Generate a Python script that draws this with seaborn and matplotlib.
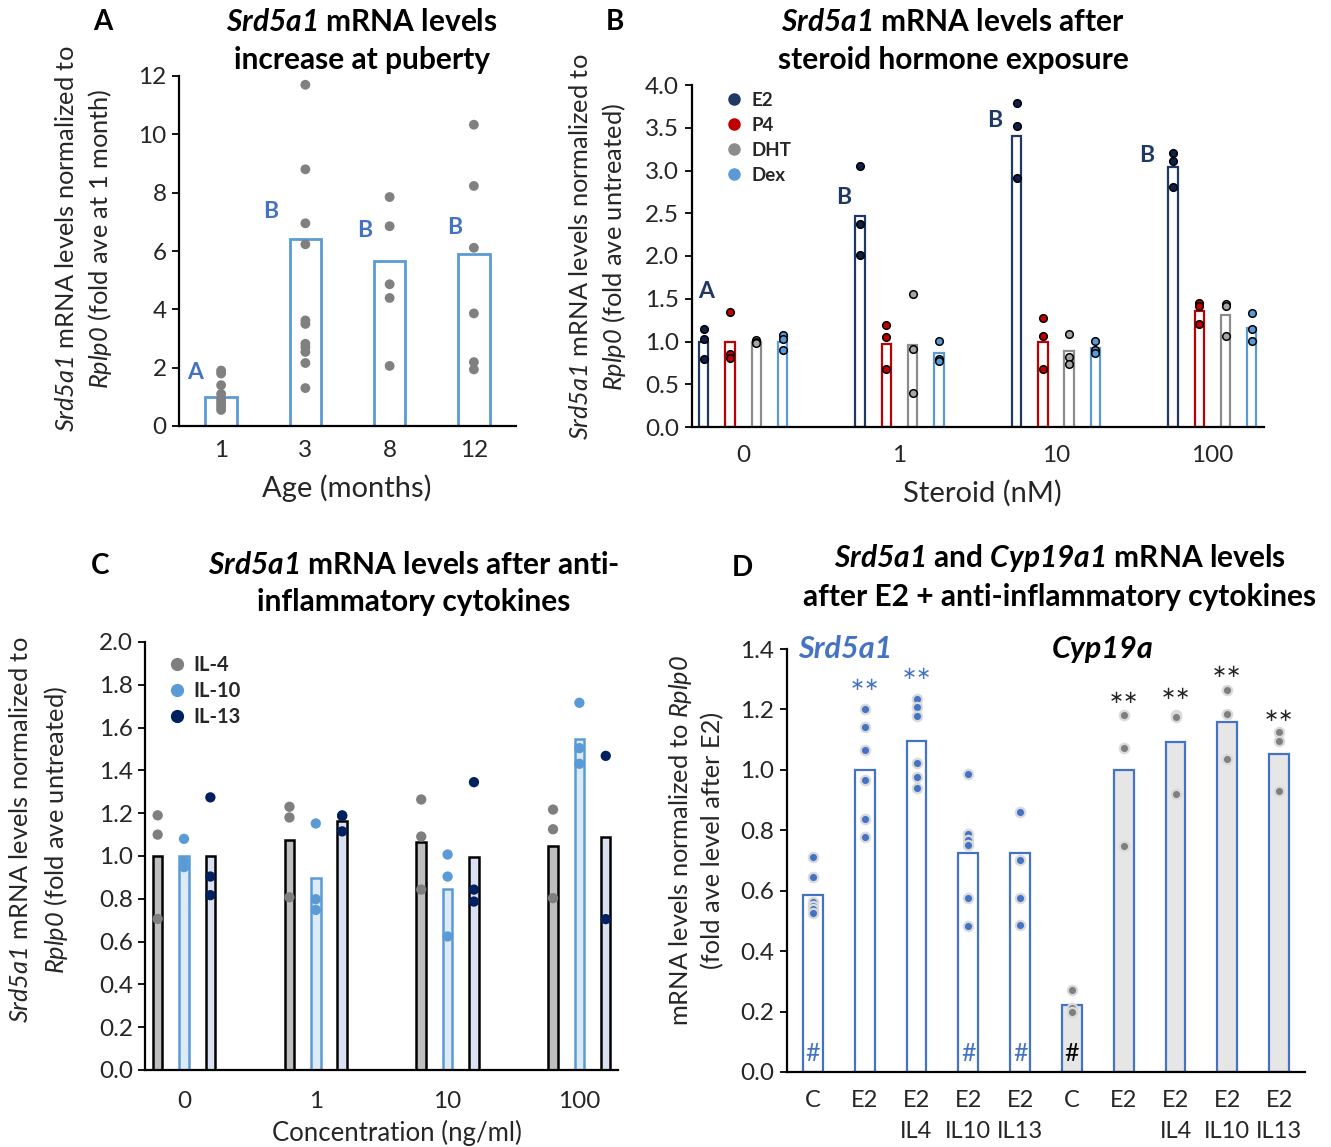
import numpy as np
import matplotlib
matplotlib.use("Agg")
import matplotlib.pyplot as plt
import seaborn as sns
from matplotlib.lines import Line2D

# ---------------- DATA ----------------
# Panel A
ages = ["1", "3", "8", "12"]
a_means = [1.0, 6.4, 5.65, 5.9]
a_pts_1m = [1.9, 1.8, 1.4, 1.1, 0.95, 0.85, 0.75, 0.65, 0.55]
a_pts_3m = [11.7, 8.8, 6.95, 6.23, 3.62, 3.5, 2.82, 2.7, 2.54, 2.16, 1.3]
a_pts_8m = [7.85, 6.85, 4.86, 4.39, 2.06]
a_pts_12m = [10.33, 8.23, 6.11, 3.86, 2.19, 1.94]
a_letters = ["A", "B", "B", "B"]

# Panel B
b_doses = ["0", "1", "10", "100"]
b_steroids = ["E2", "P4", "DHT", "Dex"]
b_e2_mean = [1.0, 2.47, 3.40, 3.04]
b_p4_mean = [1.0, 0.976, 1.0, 1.36]
b_dht_mean = [1.0, 0.96, 0.886, 1.31]
b_dex_mean = [1.0, 0.86, 0.925, 1.16]
b_e2_pts = [[1.15, 1.03, 0.80], [3.05, 2.38, 2.01], [3.79, 3.52, 2.91], [3.21, 3.11, 2.81]]
b_p4_pts = [[1.34, 0.85, 0.81], [1.19, 1.05, 0.675], [1.28, 1.07, 0.675], [1.45, 1.42, 1.21]]
b_dht_pts = [[1.02, 1.0, 0.98], [1.56, 0.917, 0.40], [1.09, 0.82, 0.74], [1.44, 1.42, 1.07]]
b_dex_pts = [[1.08, 1.03, 0.90], [1.01, 0.80, 0.77], [1.01, 0.90, 0.87], [1.33, 1.15, 1.01]]
b_letters = ["A", "B", "B", "B"]

# Panel C
c_conc = ["0", "1", "10", "100"]
c_cytokines = ["IL-4", "IL-10", "IL-13"]
c_il4_mean = [1.0, 1.076, 1.065, 1.049]
c_il10_mean = [1.0, 0.896, 0.845, 1.548]
c_il13_mean = [1.0, 1.164, 0.993, 1.087]
c_il4_pts = [[1.19, 1.10, 0.706], [1.23, 1.18, 0.807], [1.264, 1.091, 0.843], [1.217, 1.125, 0.803]]
c_il10_pts = [[1.08, 0.974, 0.948], [1.152, 0.798, 0.748], [1.007, 0.904, 0.624], [1.716, 1.504, 1.431]]
c_il13_pts = [[1.274, 0.904, 0.817], [1.19, 1.115, 1.187], [1.345, 0.843, 0.787], [1.468, 0.705]]

# Panel D
d_labels = ["C", "E2", "E2\nIL4", "E2\nIL10", "E2\nIL13",
            "C", "E2", "E2\nIL4", "E2\nIL10", "E2\nIL13"]
d_srd_mean = [0.586, 1.0, 1.094, 0.724, 0.724]
d_cyp_mean = [0.222, 1.0, 1.091, 1.160, 1.051]
d_srd_pts = [[0.713, 0.644, 0.564, 0.549, 0.54, 0.527],
             [1.203, 1.141, 1.065, 0.967, 0.839, 0.777],
             [1.235, 1.208, 1.177, 1.022, 0.975, 0.940],
             [0.986, 0.788, 0.768, 0.751, 0.575, 0.484],
             [0.862, 0.702, 0.575, 0.487]]
d_cyp_pts = [[0.270, 0.212, 0.199],
             [1.181, 1.072, 0.748],
             [1.18, 1.175, 0.919],
             [1.265, 1.185, 1.035],
             [1.124, 1.097, 0.930]]
d_stars = ["", "∗∗", "∗∗", "", "", "", "∗∗", "∗∗", "∗∗", "∗∗"]
d_hash = ["#", "", "", "#", "#", "#", "", "", "", ""]

# ---------------- STYLE ----------------
sns.set_theme(style="ticks")
FONT = "Lato"
plt.rcParams["font.family"] = [FONT, "DejaVu Sans"]
plt.rcParams.update({
    "mathtext.fontset": "custom",
    "mathtext.sf": "Lato:italic:bold",
    "mathtext.tt": "Lato:italic",
    "mathtext.rm": "Lato",
    "mathtext.it": "Lato:italic",
    "mathtext.bf": "Lato:bold",
})
TXT = "#262626"
TICK = 17.5
LAB = 18.3
TITLE = 21.5
PANEL = 20

W, H = 1331, 1147
fig = plt.figure(figsize=(W / 100, H / 100), dpi=100)
fig.patch.set_facecolor("white")


def px_axes(l, r, t, b):
    return fig.add_axes([l / W, 1 - b / H, (r - l) / W, (b - t) / H])


def style_axis(ax, xpad):
    sns.despine(ax=ax)
    for s in ["left", "bottom"]:
        ax.spines[s].set_color("black")
        ax.spines[s].set_linewidth(1.6)
    ax.tick_params(axis="y", length=5, width=1.3, color="black",
                   labelsize=TICK, labelcolor=TXT, pad=4)
    ax.tick_params(axis="x", length=0, labelsize=TICK, labelcolor=TXT, pad=xpad)
    ax.set_xlabel("")
    ax.set_ylabel("")
    ax.set_facecolor("none")


def bars(ax, x, heights, width, face, edge, lw):
    n0 = len(ax.patches)
    sns.barplot(x=np.asarray(x, dtype=float), y=heights, native_scale=True,
                orient="x", width=width, color=face, saturation=1,
                errorbar=None, ax=ax, linewidth=lw, edgecolor=edge, zorder=2)
    for p in ax.patches[n0:]:
        p.set_facecolor(face)
        p.set_edgecolor(edge)
        p.set_linewidth(lw)


def dots(ax, x, pts, color, s, edge, lw):
    sns.scatterplot(x=np.full(len(pts), x, dtype=float), y=pts, color=color,
                    s=s, edgecolor=edge, linewidth=lw, ax=ax, legend=False,
                    zorder=4, clip_on=False)


def ftext(x, y, s, **kw):
    fig.text(x / W, 1 - y / H, s, **kw)


# ---------------- PANEL A ----------------
axA = px_axes(179, 516, 76, 426)
posA = np.arange(len(ages))
A_EDGE = "#5B9BD5"
bars(axA, posA, a_means, 0.375, "white", A_EDGE, 2.0)
for i, pts in enumerate([a_pts_1m, a_pts_3m, a_pts_8m, a_pts_12m]):
    dots(axA, posA[i], pts, "#808080", 50, "none", 0)
a_letter_xy = [(-0.31, 1.82), (0.585, 7.34), (1.70, 6.69), (2.775, 6.79)]
for (lx, ly), t in zip(a_letter_xy, a_letters):
    axA.text(lx, ly, t, color="#4472C4", fontsize=16.5, fontweight="bold",
             ha="center", va="center")
style_axis(axA, 10)
axA.set_xlim(-0.5, 3.5)
axA.set_ylim(0, 12)
axA.set_yticks(range(0, 13, 2))
axA.set_xticks(posA, ages)

# ---------------- PANEL B ----------------
axB = px_axes(691.5, 1264, 85, 427)
posB = np.arange(len(b_doses))
b_colors = ["#1F3864", "#C00000", "#8C8C8C", "#5B9BD5"]
b_pcolors = ["#0E1F4A", "#C00000", "#A6A6A6", "#5B9BD5"]
b_offsets = (np.arange(4) - 1.5) * 0.168
for k, (means, pts_list) in enumerate(zip(
        [b_e2_mean, b_p4_mean, b_dht_mean, b_dex_mean],
        [b_e2_pts, b_p4_pts, b_dht_pts, b_dex_pts])):
    bars(axB, posB + b_offsets[k], means, 0.06, "white", b_colors[k], 1.6)
    for i, pts in enumerate(pts_list):
        dots(axB, posB[i] + b_offsets[k], pts, b_pcolors[k], 30, "black", 1.1)
b_letter_xy = [(-0.24, 1.58), (0.64, 2.68), (1.61, 3.58), (2.58, 3.18)]
for (lx, ly), t in zip(b_letter_xy, b_letters):
    axB.text(lx, ly, t, color="#1F3864", fontsize=16.5, fontweight="bold",
             ha="center", va="center")
style_axis(axB, 13)
axB.set_xlim(-0.33, 3.33)
axB.set_ylim(0, 4.0)
axB.set_yticks(np.arange(0, 4.01, 0.5), [f"{v:.1f}" for v in np.arange(0, 4.01, 0.5)])
axB.set_xticks(posB, b_doses)
hB = [Line2D([], [], marker="o", ls="", color=c, markersize=8) for c in b_colors]
axB.legend(hB, b_steroids, loc="upper left", bbox_to_anchor=(726 / W, 1 - 92 / H),
           bbox_transform=fig.transFigure, frameon=False, borderpad=0,
           borderaxespad=0, handlelength=0.8, handletextpad=0.55, labelspacing=0.42,
           prop={"family": FONT, "weight": "bold", "size": 13.5})

# ---------------- PANEL C ----------------
axC = px_axes(145.4, 618, 642, 1070)
posC = np.arange(len(c_conc))
c_face = ["#BFBFBF", "#DDEBF7", "#D9E1F2"]
c_edge = ["black", "#5B9BD5", "black"]
c_pt = ["#7F7F7F", "#5B9BD5", "#002060"]
c_offsets = (np.arange(3) - 1) * 0.2
for k, (means, pts_list) in enumerate(zip(
        [c_il4_mean, c_il10_mean, c_il13_mean],
        [c_il4_pts, c_il10_pts, c_il13_pts])):
    bars(axC, posC + c_offsets[k], means, 0.072, c_face[k], c_edge[k], 1.8)
    for i, pts in enumerate(pts_list):
        dots(axC, posC[i] + c_offsets[k], pts, c_pt[k], 55, "none", 0)
style_axis(axC, 15)
axC.set_xlim(-0.293, 3.293)
axC.set_ylim(0, 2.0)
axC.set_yticks(np.arange(0, 2.01, 0.2), [f"{v:.1f}" for v in np.arange(0, 2.01, 0.2)])
axC.set_xticks(posC, c_conc)
hC = [Line2D([], [], marker="o", ls="", color=c, markersize=8.5) for c in c_pt]
axC.legend(hC, c_cytokines, loc="upper left", bbox_to_anchor=(169 / W, 1 - 655 / H),
           bbox_transform=fig.transFigure, frameon=False, borderpad=0,
           borderaxespad=0, handlelength=0.75, handletextpad=0.45, labelspacing=0.31,
           prop={"family": FONT, "weight": "bold", "size": 14.5})

# ---------------- PANEL D ----------------
axD = px_axes(787, 1305, 649, 1072)
posD = np.arange(len(d_labels))
D_BLUE = "#4472C4"
bars(axD, posD[:5], d_srd_mean, 0.385, "white", D_BLUE, 1.6)
bars(axD, posD[5:], d_cyp_mean, 0.385, "#E7E6E6", D_BLUE, 1.6)
for i, pts in enumerate(d_srd_pts):
    dots(axD, posD[i], pts, D_BLUE, 45, "#D9D9D9", 1.6)
for i, pts in enumerate(d_cyp_pts):
    dots(axD, posD[5 + i], pts, "#7F7F7F", 45, "#D9D9D9", 1.6)
d_star_y = [0, 1.287, 1.324, 0, 0, 0, 1.246, 1.257, 1.329, 1.185]
for i, (st, sy) in enumerate(zip(d_stars, d_star_y)):
    if st:
        axD.text(posD[i], sy, st, color=D_BLUE if i < 5 else "#262626",
                 fontsize=13, family=["DejaVu Sans"], ha="center",
                 va="center_baseline")
for i, hs in enumerate(d_hash):
    if hs:
        axD.text(posD[i], 0.061, hs, color=D_BLUE if i < 5 else "black",
                 fontsize=18, ha="center", va="center")
axD.text(0.62, 1.40, "Srd5a1", color=D_BLUE, fontsize=22, fontweight="bold",
         fontstyle="italic", ha="center", va="center")
axD.text(5.6, 1.40, "Cyp19a", color="black", fontsize=22, fontweight="bold",
         fontstyle="italic", ha="center", va="center")
style_axis(axD, 13)
axD.set_xlim(-0.5, 9.5)
axD.set_ylim(0, 1.4)
axD.set_yticks(np.arange(0, 1.41, 0.2), [f"{v:.1f}" for v in np.arange(0, 1.41, 0.2)])
axD.set_xticks(posD, d_labels)
for lab in axD.get_xticklabels():
    lab.set_fontsize(17)
    lab.set_linespacing(1.6)
    lab.set_multialignment("center")

# ---------------- TEXT: titles, labels ----------------
tkw = dict(ha="center", va="center", fontsize=TITLE, fontweight="bold", color="black")
ftext(362, 22, r"$\mathsf{Srd5a1}$ mRNA levels", **tkw)
ftext(362, 60, "increase at puberty", **tkw)
ftext(953, 22, r"$\mathsf{Srd5a1}$ mRNA levels after", **tkw)
ftext(953, 60, "steroid hormone exposure", **tkw)
ftext(414, 565, r"$\mathsf{Srd5a1}$ mRNA levels after anti-", **tkw)
ftext(414, 602, "inflammatory cytokines", **tkw)
ftext(1060, 558, r"$\mathsf{Srd5a1}$ and $\mathsf{Cyp19a1}$ mRNA levels", **tkw)
ftext(1060, 597, "after E2 + anti-inflammatory cytokines", **tkw)

pkw = dict(ha="center", va="center", fontsize=PANEL, fontweight="bold", color="black")
ftext(103, 22, "A", **pkw)
ftext(615, 22, "B", **pkw)
ftext(100, 566, "C", **pkw)
ftext(742, 568, "D", **pkw)

ftext(347, 488, "Age (months)", ha="center", va="center", fontsize=21, color=TXT)
ftext(982, 493, "Steroid (nM)", ha="center", va="center", fontsize=21, color=TXT)
ftext(397, 1133, "Concentration (ng/ml)", ha="center", va="center", fontsize=18.5, color=TXT)

ykw = dict(ha="center", va="center", fontsize=LAB, color=TXT, rotation=90)
ftext(67, 239, r"$\mathtt{Srd5a1}$ mRNA levels normalized to", **ykw)
ftext(100, 239, r"$\mathtt{Rplp0}$ (fold ave at 1 month)", **ykw)
ftext(580, 247, r"$\mathtt{Srd5a1}$ mRNA levels normalized to", **ykw)
ftext(614, 247, r"$\mathtt{Rplp0}$ (fold ave untreated)", **ykw)
ftext(21, 830, r"$\mathtt{Srd5a1}$ mRNA levels normalized to", **ykw)
ftext(56, 830, r"$\mathtt{Rplp0}$ (fold ave untreated)", **ykw)
ftext(680, 840, r"mRNA levels normalized to $\mathtt{Rplp0}$", **ykw)
ftext(713, 840, "(fold ave level after E2)", **ykw)

fig.savefig("out.png", dpi=100, facecolor="white")
